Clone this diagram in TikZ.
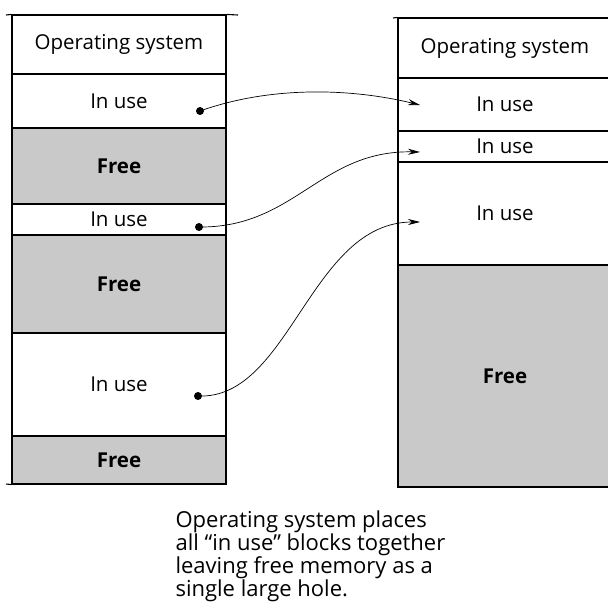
\documentclass[tikz,border=0pt]{standalone}
\usepackage{fontspec}
\setmainfont{Open Sans}
\usetikzlibrary{arrows.meta}
\definecolor{freegray}{RGB}{201,201,201}

\begin{document}
\begin{tikzpicture}[x=1pt,y=-1pt,line width=1.1pt,>=Stealth,
  usedblk/.style={draw,fill=white,minimum width=214pt,inner sep=0pt,
    font=\fontsize{20.5}{24}\selectfont},
  freeblk/.style={usedblk,fill=freegray,font=\fontsize{20.5}{24}\selectfont\bfseries},
  movedot/.style={circle,fill=black,inner sep=0pt,minimum size=8pt},
  movearrow/.style={line width=0.7pt,->,>={Stealth[length=12pt,width=6pt]}}]
\useasboundingbox (0,0) rectangle (608,602);
\clip (0,0) rectangle (608,602);
% ---------- memory before compaction (left) ----------
\node[usedblk,minimum height=59pt] (osA) at (119,44.5) {Operating system};
\node[usedblk,minimum height=54pt] (useA) at (119,101) {In use};
\node[freeblk,minimum height=76pt] (freeA) at (119,166) {Free};
\node[usedblk,minimum height=31pt] (useB) at (119,219.5) {In use};
\node[freeblk,minimum height=98pt] (freeB) at (119,284) {Free};
\node[usedblk,minimum height=103pt] (useC) at (119,384.5) {In use};
\node[freeblk,minimum height=48pt] (freeC) at (119,460) {Free};
\draw (6,15) -- (osA.north west);
\draw (osA.north east) -- (238,15);
\draw (6,484) -- (freeC.south west);
% ---------- memory after compaction (right) ----------
\node[usedblk,minimum height=60pt] (osR) at (505,48) {Operating system};
\node[usedblk,minimum height=53pt] (useR1) at (505,104.5) {In use};
\node[usedblk,minimum height=31pt] (useR2) at (505,146.5) {In use};
\node[usedblk,minimum height=103pt] (useR3) at (505,213.5) {In use};
\node[freeblk,minimum height=222pt] (freeR) at (505,376) {Free};
\draw (393,18) -- (osR.north west);
% ---------- moves ----------
\node[movedot] (dotA) at (200,111) {};
\node[movedot] (dotB) at (199,227) {};
\node[movedot] (dotC) at (198,396) {};
\coordinate (tipA) at (420,105);
\coordinate (tipB) at (420,152);
\coordinate (tipC) at (420,222);
\draw[movearrow] (dotA.center) .. controls (270,86) and (350,88) .. (tipA);
\draw[movearrow] (dotB.center) .. controls (295,228) and (320,150) .. (tipB);
\draw[movearrow] (dotC.center) .. controls (290,400) and (310,222) .. (tipC);
% ---------- caption ----------
\node[anchor=north west,align=left,inner sep=0pt,
  font=\fontsize{22}{21.3}\selectfont] (note) at (175,510)
  {Operating system places\\all “in use” blocks together\\
   leaving free memory as a\\single large hole.};
\end{tikzpicture}
\end{document}
